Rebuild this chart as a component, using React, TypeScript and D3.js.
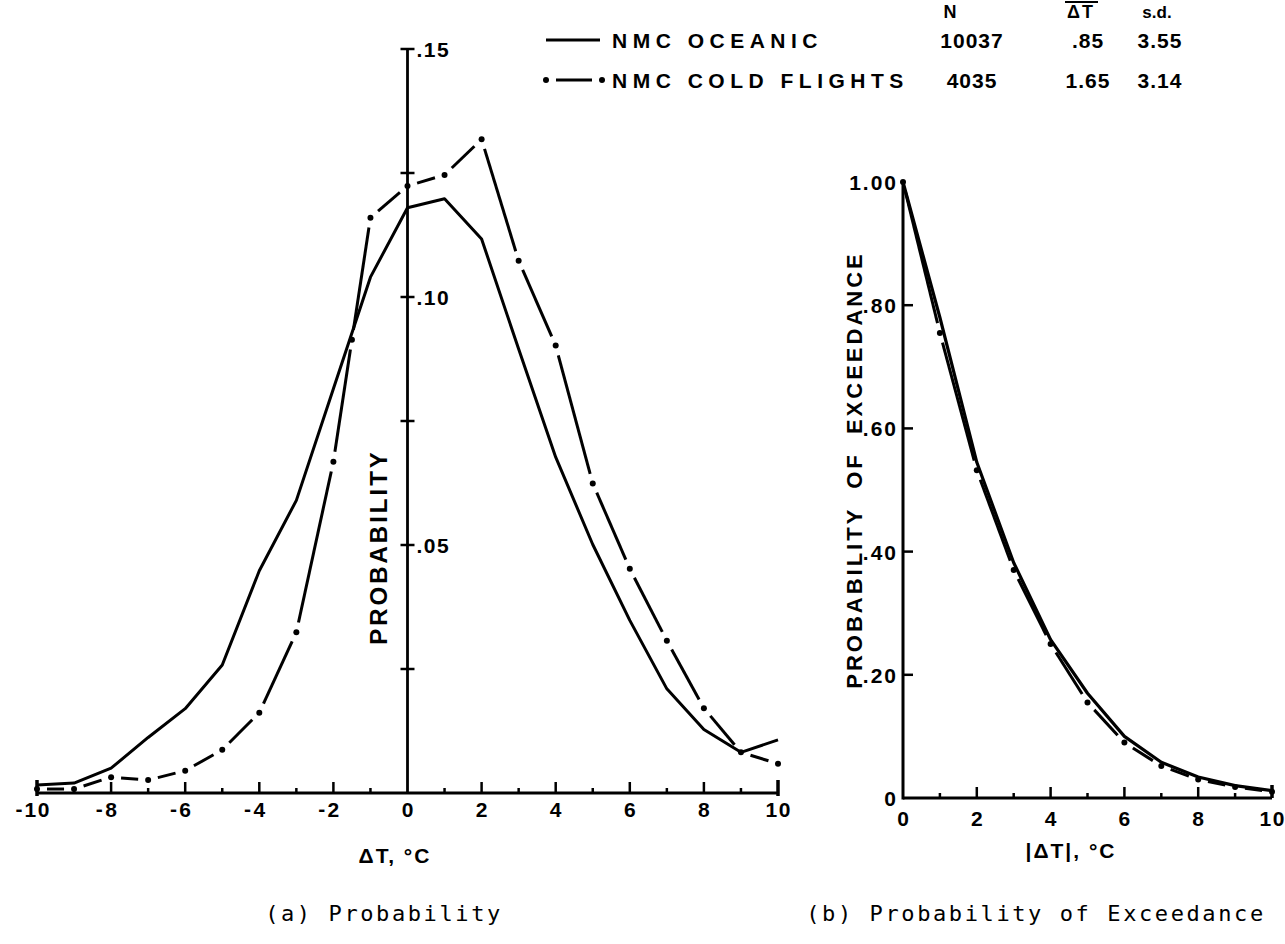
import React from "react";
import * as d3 from "d3";

// ---------- data ----------
const deltaT = [-10, -9, -8, -7, -6, -5, -4, -3, -2, -1, 0, 1, 2, 3, 4, 5, 6, 7, 8, 9, 10];
const probOceanic = [0.0016, 0.002, 0.005, 0.0112, 0.017, 0.0258, 0.0448, 0.059, 0.0815, 0.104, 0.118, 0.1198, 0.1117, 0.0895, 0.0677, 0.0501, 0.0348, 0.021, 0.0128, 0.0082, 0.0107];
const probCold = [0.0008, 0.0008, 0.0032, 0.0026, 0.0045, 0.0087, 0.0162, 0.0324, 0.0668, 0.116, 0.1224, 0.1246, 0.1318, 0.1073, 0.0902, 0.0624, 0.0452, 0.0307, 0.0171, 0.0082, 0.0059];

const absDeltaT = [0, 1, 2, 3, 4, 5, 6, 7, 8, 9, 10];
const excOceanic = [1.0, 0.78, 0.545, 0.382, 0.257, 0.17, 0.1, 0.058, 0.034, 0.02, 0.012];
const excCold = [1.0, 0.755, 0.532, 0.37, 0.25, 0.155, 0.09, 0.052, 0.03, 0.018, 0.01];

const leftXTicks = [-10, -9, -8, -7, -6, -5, -4, -3, -2, -1, 0, 1, 2, 3, 4, 5, 6, 7, 8, 9, 10];
const leftXLabels = [-10, -8, -6, -4, -2, 0, 2, 4, 6, 8, 10];
const leftYTicks = [0.025, 0.05, 0.075, 0.1, 0.125, 0.15];
const leftYLabels = [
  { v: 0.05, t: ".05" },
  { v: 0.1, t: ".10" },
  { v: 0.15, t: ".15" },
];
const rightXTicks = [1, 2, 3, 4, 5, 6, 7, 8, 9, 10];
const rightXLabels = [0, 2, 4, 6, 8, 10];
const rightYTicks = [0.2, 0.4, 0.6, 0.8];
const rightYLabels = [
  { v: 0, t: "0" },
  { v: 0.2, t: ".20" },
  { v: 0.4, t: ".40" },
  { v: 0.6, t: ".60" },
  { v: 0.8, t: ".80" },
  { v: 1.0, t: "1.00" },
];

const legendRows = [
  { name: "NMC OCEANIC", n: "10037", mean: ".85", sd: "3.55", style: "solid" },
  { name: "NMC COLD FLIGHTS", n: "4035", mean: "1.65", sd: "3.14", style: "dashdot" },
];

// ---------- helpers ----------
const BOLD = "'Liberation Sans', Arial, sans-serif";
const MONO = "'DejaVu Sans Mono', monospace";

type P = [number, number];

function dashDot(pts: P[], key: string, gap = 10, sw = 3) {
  const lines: JSX.Element[] = [];
  const dots: P[] = [];
  for (let i = 0; i < pts.length - 1; i++) {
    const [x0, y0] = pts[i];
    const [x1, y1] = pts[i + 1];
    const L = Math.hypot(x1 - x0, y1 - y0);
    const n = Math.max(1, Math.round(L / 130));
    for (let k = 0; k < n; k++) {
      const ax = x0 + ((x1 - x0) * k) / n;
      const ay = y0 + ((y1 - y0) * k) / n;
      const bx = x0 + ((x1 - x0) * (k + 1)) / n;
      const by = y0 + ((y1 - y0) * (k + 1)) / n;
      const l = Math.hypot(bx - ax, by - ay);
      if (k > 0) dots.push([ax, ay]);
      if (l > 2 * gap + 3) {
        const ux = (bx - ax) / l;
        const uy = (by - ay) / l;
        lines.push(
          <line
            key={`${key}-l-${i}-${k}`}
            x1={ax + ux * gap}
            y1={ay + uy * gap}
            x2={bx - ux * gap}
            y2={by - uy * gap}
            stroke="#000"
            strokeWidth={sw}
            strokeLinecap="butt"
          />
        );
      }
    }
  }
  pts.forEach((p) => dots.push(p));
  return (
    <g key={key}>
      {lines}
      {dots.map((p, i) => (
        <circle key={`${key}-d-${i}`} cx={p[0]} cy={p[1]} r={3} fill="#000" />
      ))}
    </g>
  );
}

export default function App() {
  // scales
  const xL = d3.scaleLinear().domain([-10, 10]).range([37, 778]);
  const yL = d3.scaleLinear().domain([0, 0.15]).range([793, 49]);
  const xR = d3.scaleLinear().domain([0, 10]).range([903, 1272]);
  const yR = d3.scaleLinear().domain([0, 1]).range([798, 182]);

  const lineL = d3
    .line<number>()
    .x((_, i) => xL(deltaT[i]))
    .y((d) => yL(d));
  const lineR = d3
    .line<number>()
    .x((_, i) => xR(absDeltaT[i]))
    .y((d) => yR(d));

  const coldPtsL: P[] = probCold.map((v, i) => [xL(deltaT[i]), yL(v)]);
  const coldPtsR: P[] = excCold.map((v, i) => [xR(absDeltaT[i]), yR(v)]);

  const tickFont = { fontFamily: BOLD, fontWeight: 700, fontSize: 21, letterSpacing: 1.5 } as const;

  return (
    <svg
      width={1285}
      height={944}
      style={{ position: "absolute", left: 0, top: 0, background: "#fff" }}
    >
      <rect x={0} y={0} width={1285} height={944} fill="#fff" />

      {/* ================= LEFT CHART ================= */}
      <line x1={xL(-10)} y1={yL(0)} x2={xL(10)} y2={yL(0)} stroke="#000" strokeWidth={3} />
      {leftXTicks.map((t) => {
        const isEnd = t === -10 || t === 10;
        const major = t % 2 === 0;
        const up = isEnd ? 13 : major ? 11 : 5;
        const down = isEnd ? 3 : 0;
        if (t === 0) return null;
        return (
          <line
            key={`lxt${t}`}
            x1={xL(t)}
            x2={xL(t)}
            y1={yL(0) + down}
            y2={yL(0) - up}
            stroke="#000"
            strokeWidth={isEnd ? 3.5 : 2.5}
          />
        );
      })}
      {leftXLabels.map((t) => {
        const digits = String(Math.abs(t));
        const x = xL(t);
        const w = digits.length * 12.5;
        return (
          <g key={`lxl${t}`} {...tickFont}>
            <text x={x + 0.75} y={817} textAnchor="middle">
              {digits}
            </text>
            {t < 0 && (
              <text x={x - w / 2 - 2} y={816} textAnchor="end" letterSpacing={0}>
                -
              </text>
            )}
          </g>
        );
      })}

      <line x1={xL(0)} y1={yL(0)} x2={xL(0)} y2={yL(0.15)} stroke="#000" strokeWidth={2.8} />
      {leftYTicks.map((t) => (
        <line
          key={`lyt${t}`}
          x1={xL(0) - 7}
          x2={xL(0) + 7}
          y1={yL(t)}
          y2={yL(t)}
          stroke="#000"
          strokeWidth={2.5}
        />
      ))}
      {leftYLabels.map((l) => (
        <text key={`lyl${l.t}`} x={xL(0) + 9} y={yL(l.v) + 8} {...tickFont}>
          {l.t}
        </text>
      ))}
      <text
        transform={`translate(387, 547) rotate(-90)`}
        textAnchor="middle"
        fontFamily={BOLD}
        fontWeight={700}
        fontSize={24}
        letterSpacing={3}
      >
        PROBABILITY
      </text>

      <path d={lineL(probOceanic) || ""} fill="none" stroke="#000" strokeWidth={3} strokeLinejoin="round" />
      {dashDot(coldPtsL, "coldL")}

      <text x={395} y={863} textAnchor="middle" fontFamily={BOLD} fontWeight={700} fontSize={21} letterSpacing={2}>
        ΔT, °C
      </text>
      <text x={384} y={921} textAnchor="middle" fontFamily={MONO} fontSize={22} letterSpacing={2.6}>
        (a) Probability
      </text>

      {/* ================= RIGHT CHART ================= */}
      <line x1={xR(0)} y1={yR(0)} x2={xR(10)} y2={yR(0)} stroke="#000" strokeWidth={3} />
      <line x1={xR(0)} y1={yR(0) + 1.5} x2={xR(0)} y2={yR(1)} stroke="#000" strokeWidth={3} />
      {rightXTicks.map((t) => {
        const isEnd = t === 10;
        const major = t % 2 === 0;
        const up = isEnd ? 13 : major ? 11 : 5;
        return (
          <line
            key={`rxt${t}`}
            x1={xR(t)}
            x2={xR(t)}
            y1={yR(0)}
            y2={yR(0) - up}
            stroke="#000"
            strokeWidth={isEnd ? 3.5 : 2.5}
          />
        );
      })}
      {rightYTicks.map((t) => (
        <line
          key={`ryt${t}`}
          x1={xR(0)}
          x2={xR(0) + 10}
          y1={yR(t)}
          y2={yR(t)}
          stroke="#000"
          strokeWidth={2.5}
        />
      ))}
      {rightXLabels.map((t) => (
        <text key={`rxl${t}`} x={xR(t) + 0.75} y={826} textAnchor="middle" {...tickFont}>
          {t}
        </text>
      ))}
      {rightYLabels.map((l) => (
        <text key={`ryl${l.t}`} x={xR(0) - 5} y={yR(l.v) + 8} textAnchor="end" {...tickFont} letterSpacing={2}>
          {l.t}
        </text>
      ))}
      <text
        transform={`translate(862, 470) rotate(-90)`}
        textAnchor="middle"
        fontFamily={BOLD}
        fontWeight={700}
        fontSize={22}
        letterSpacing={3}
        style={{ whiteSpace: "pre" }}
      >
        {"PROBABILITY  OF  EXCEEDANCE"}
      </text>

      <path d={lineR(excOceanic) || ""} fill="none" stroke="#000" strokeWidth={3.2} strokeLinejoin="round" />
      {dashDot(coldPtsR, "coldR")}

      <text x={1071} y={858} textAnchor="middle" fontFamily={BOLD} fontWeight={700} fontSize={21} letterSpacing={2}>
        |ΔT|, °C
      </text>
      <text x={1036} y={921} textAnchor="middle" fontFamily={MONO} fontSize={22} letterSpacing={2.6}>
        (b) Probability of Exceedance
      </text>

      {/* ================= LEGEND ================= */}
      <g fontFamily={BOLD} fontWeight={700}>
        <text x={950} y={18} textAnchor="middle" fontSize={18}>N</text>
        <text x={1081} y={18} textAnchor="middle" fontSize={18} letterSpacing={2}>ΔT</text>
        <line x1={1065} x2={1098} y1={2} y2={2} stroke="#000" strokeWidth={2} />
        <text x={1157} y={18} textAnchor="middle" fontSize={17}>s.d.</text>
        {legendRows.map((r, i) => {
          const y = 40 + i * 40;
          return (
            <g key={`leg${i}`}>
              {r.style === "solid" ? (
                <line x1={546} x2={600} y1={y} y2={y} stroke="#000" strokeWidth={3} />
              ) : (
                dashDot([[546, y], [602, y]], `legdd${i}`, 10)
              )}
              <text x={612} y={y + 8} fontSize={21} letterSpacing={5.5}>
                {r.name}
              </text>
              <text x={972} y={y + 8} textAnchor="middle" fontSize={21} letterSpacing={1}>
                {r.n}
              </text>
              <text x={1088} y={y + 8} textAnchor="middle" fontSize={21} letterSpacing={1}>
                {r.mean}
              </text>
              <text x={1160} y={y + 8} textAnchor="middle" fontSize={21} letterSpacing={1}>
                {r.sd}
              </text>
            </g>
          );
        })}
      </g>
    </svg>
  );
}
